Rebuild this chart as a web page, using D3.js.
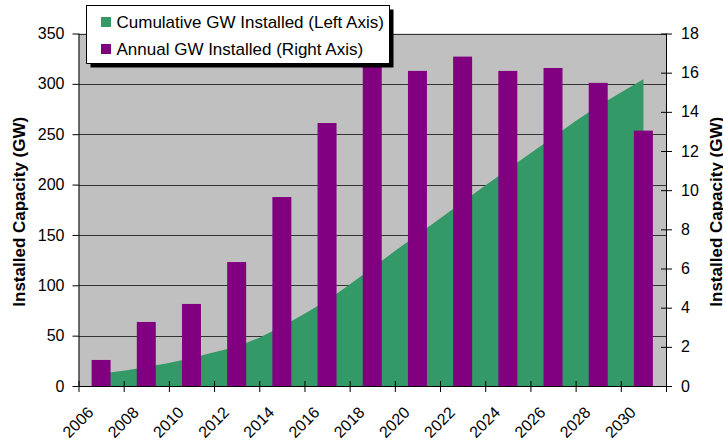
<!DOCTYPE html>
<html>
<head>
<meta charset="utf-8">
<script src="https://cdn.jsdelivr.net/npm/d3@7"></script>
<style>
  body { margin: 0; background: #fff; }
  svg { display: block; font-family: "Liberation Sans", Arial, sans-serif; }
</style>
</head>
<body>
<svg width="723" height="442"></svg>
<script>
// cumulative GW installed, one value per year (left axis)
var cumYears = [2007, 2008, 2009, 2010, 2011, 2012, 2013, 2014, 2015, 2016, 2017, 2018, 2019,
                2020, 2021, 2022, 2023, 2024, 2025, 2026, 2027, 2028, 2029, 2030, 2031];
var cumulative = [12.3, 15.2, 18.8, 22.8, 27.8, 33.4, 39, 47.9, 59.1, 71.7, 85, 100.8, 117.2,
                  134, 150.2, 166.3, 182.8, 199, 215, 231, 247, 263.2, 278, 291.4, 304.5];

// annual GW installed, every other year (right axis)
var annualYears = [2007, 2009, 2011, 2013, 2015, 2017, 2019, 2021, 2023, 2025, 2027, 2029, 2031];
var annual = [1.33, 3.27, 4.19, 6.33, 9.65, 13.43, 16.5, 16.09, 16.82, 16.09, 16.24, 15.48, 13.04];

var leftTicks = [0, 50, 100, 150, 200, 250, 300, 350];
var rightTicks = [0, 2, 4, 6, 8, 10, 12, 14, 16, 18];
var xTicks = d3.range(2006, 2033, 2);
var xLabels = d3.range(2006, 2031, 2);

var legendItems = ["Cumulative GW Installed (Left Axis)", "Annual GW Installed (Right Axis)"];
var yTitle = "Installed Capacity (GW)";

var green = "#339966", purple = "#800080";

var svg = d3.select("svg");
var plotL = 78.5, plotR = 666, plotT = 33.5, plotB = 386;

var x = d3.scaleLinear().domain([2006, 2032]).range([plotL, plotR]);
var yL = d3.scaleLinear().domain([0, 350]).range([plotB, plotT]);
var yR = d3.scaleLinear().domain([0, 18]).range([plotB, plotT]);

// plot background
svg.append("rect")
    .attr("x", plotL).attr("y", plotT)
    .attr("width", plotR - plotL).attr("height", plotB - plotT)
    .attr("fill", "#c0c0c0");

// gridlines
svg.append("g").selectAll("line")
    .data(leftTicks.slice(1))
    .enter().append("line")
    .attr("x1", plotL).attr("x2", plotR)
    .attr("y1", function (d) { return Math.round(yL(d)) + 0.5; })
    .attr("y2", function (d) { return Math.round(yL(d)) + 0.5; })
    .attr("stroke", "#333")
    .attr("stroke-width", 1);

// cumulative area
var cumData = cumYears.map(function (yr, i) { return { year: yr, value: cumulative[i] }; });
var area = d3.area()
    .x(function (d) { return x(d.year); })
    .y0(yL(0))
    .y1(function (d) { return yL(d.value); });

svg.append("path")
    .datum(cumData)
    .attr("d", area)
    .attr("fill", green);

// annual bars
var barW = (x(1) - x(0)) * 0.84;
svg.append("g").selectAll("rect")
    .data(annualYears)
    .enter().append("rect")
    .attr("x", function (d) { return x(d) - barW / 2; })
    .attr("y", function (d, i) { return yR(annual[i]); })
    .attr("width", barW)
    .attr("height", function (d, i) { return yR(0) - yR(annual[i]); })
    .attr("fill", purple);

// left axis
var gL = svg.append("g")
    .attr("transform", "translate(" + plotL + ",0)")
    .call(d3.axisLeft(yL).tickValues(leftTicks).tickSize(6).tickPadding(8).tickFormat(d3.format("d")));

// right axis (ticks cross the line)
var gR = svg.append("g")
    .attr("transform", "translate(" + plotR + ",0)")
    .call(d3.axisRight(yR).tickValues(rightTicks).tickSize(6).tickPadding(9).tickFormat(d3.format("d")));
gR.selectAll(".tick line").attr("x1", -5);

// x axis
var gX = svg.append("g")
    .attr("transform", "translate(0," + plotB + ")")
    .call(d3.axisBottom(x).tickValues(xTicks).tickSize(6).tickFormat(""));
gX.selectAll(".tick line").attr("y1", -5);
gX.select(".domain").attr("d", "M" + plotL + ",0.5H" + plotR);

svg.append("g").selectAll("text")
    .data(xLabels)
    .enter().append("text")
    .attr("transform", function (d) { return "translate(" + (x(d) + 16) + ",413.5) rotate(-45)"; })
    .attr("text-anchor", "end")
    .attr("font-size", 16)
    .attr("fill", "#000")
    .text(function (d) { return d; });

[gL, gR, gX].forEach(function (g) {
    g.selectAll("text").attr("font-size", 16).attr("fill", "#000")
        .attr("font-family", "'Liberation Sans', Arial, sans-serif");
    g.selectAll("line").attr("stroke", "#000");
    g.select(".domain").attr("stroke", "#000");
});
gL.select(".domain").attr("d", "M0.5," + plotB + "V" + plotT);
gR.select(".domain").attr("d", "M0.5," + plotB + "V" + plotT);

// axis titles
svg.append("text")
    .attr("transform", "translate(25," + ((plotT + plotB) / 2 + 2) + ") rotate(-90)")
    .attr("text-anchor", "middle")
    .attr("font-size", 17)
    .attr("font-weight", "bold")
    .text(yTitle);

svg.append("text")
    .attr("transform", "translate(721.5," + ((plotT + plotB) / 2 + 2) + ") rotate(-90)")
    .attr("text-anchor", "middle")
    .attr("font-size", 17)
    .attr("font-weight", "bold")
    .text(yTitle);

// legend with drop shadow
var lg = svg.append("g");
lg.append("rect")
    .attr("x", 90.5).attr("y", 9.5)
    .attr("width", 303).attr("height", 58)
    .attr("fill", "#000");
lg.append("rect")
    .attr("x", 86.5).attr("y", 5.5)
    .attr("width", 303).attr("height", 58)
    .attr("fill", "#fff")
    .attr("stroke", "#000");

var colors = [green, purple];
legendItems.forEach(function (label, i) {
    lg.append("rect")
        .attr("x", 101).attr("y", 17 + i * 27)
        .attr("width", 10).attr("height", 10)
        .attr("fill", colors[i]);
    lg.append("text")
        .attr("x", 116.5).attr("y", 27.5 + i * 27)
        .attr("font-size", 17)
        .text(label);
});
</script>
</body>
</html>
